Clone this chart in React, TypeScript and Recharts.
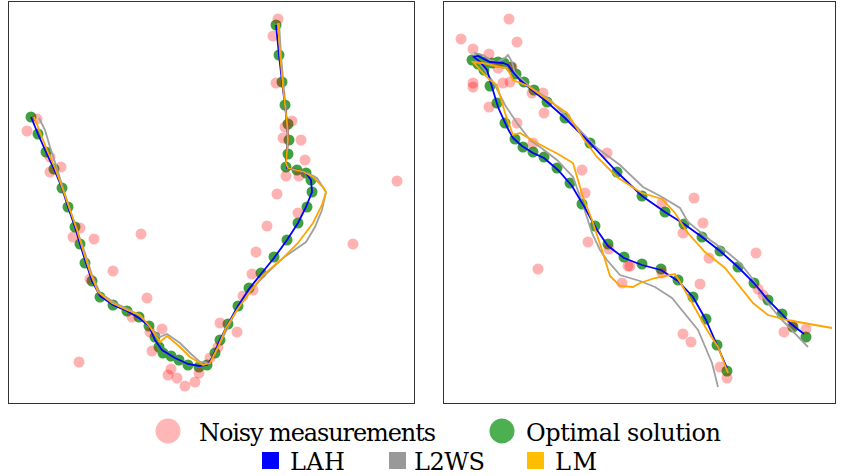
import React from 'react'
import { ScatterChart, Scatter, XAxis, YAxis } from 'recharts'

type P = { x: number; y: number }
const pts = (a: number[][]): P[] => a.map(([x, y]) => ({ x, y }))

// left panel (values in panel units, y grows downward)
const leftOptimal = pts([
  [31, 117], [38, 134], [46, 152], [54, 169], [62, 188], [68, 207], [75, 227], [80, 244],
  [85, 263], [92, 281], [100, 297], [113, 305], [127, 311], [139, 317], [149, 326], [155, 337],
  [159, 347], [163, 353], [171, 356], [179, 360], [188, 365], [199, 367], [207, 365], [215, 353],
  [220, 340], [228, 324], [238, 306], [249, 288], [261, 273], [274, 257], [287, 240], [298, 223],
  [307, 207], [312, 192], [311, 180], [306, 173], [297, 170], [286, 167], [288, 154], [289, 140],
  [288, 124], [285, 105], [282, 82], [279, 55], [276, 25],
])
const leftNoisy = pts([
  [37, 119], [27, 131], [50, 157], [61, 167], [50, 172], [80, 228], [73, 237], [94, 239],
  [141, 234], [113, 271], [90, 279], [147, 298], [132, 317], [150, 332], [162, 329], [152, 351],
  [79, 362], [171, 369], [168, 375], [177, 378], [185, 386], [195, 382], [199, 373], [210, 358],
  [220, 323], [218, 347], [237, 332], [243, 296], [253, 290], [252, 274], [256, 252], [267, 226],
  [298, 213], [353, 244], [277, 194], [286, 176], [299, 176], [305, 160], [301, 140], [283, 138],
  [285, 127], [292, 121], [276, 83], [273, 36], [278, 19], [397, 181],
])
const leftLAH = pts([
  [31, 117], [38, 134], [46, 152], [54, 169], [62, 188], [68, 207], [75, 227], [80, 244],
  [86, 263], [92, 281], [100, 296], [113, 305], [127, 311], [139, 318], [149, 326], [155, 340],
  [162, 350], [175, 358], [188, 364], [199, 366], [207, 365], [212, 358], [220, 340], [228, 324],
  [238, 306], [249, 289], [261, 274], [274, 258], [287, 240], [298, 223], [306, 207], [312, 192],
  [311, 180], [306, 173], [297, 170], [287, 168], [286, 160], [288, 140], [287, 124], [285, 105],
  [282, 82], [279, 55], [276, 25],
])
const leftL2WS = pts([
  [39, 118], [45, 130], [50, 147], [56, 165], [62, 185], [71, 213], [78, 233], [85, 253],
  [92, 275], [100, 293], [115, 303], [130, 310], [140, 316], [150, 328], [160, 337], [167, 334],
  [180, 343], [190, 353], [200, 362], [208, 363], [214, 355], [220, 343], [228, 327], [240, 303],
  [252, 289], [267, 273], [283, 258], [306, 242], [315, 227], [322, 210], [326, 192], [317, 178],
  [307, 173], [287, 168], [286, 160], [288, 140], [287, 122], [284, 90], [281, 55], [279, 23],
])
const leftLM = pts([
  [34, 117], [40, 132], [47, 150], [55, 168], [62, 187], [70, 210], [77, 230], [83, 250],
  [90, 272], [98, 292], [112, 303], [127, 310], [140, 315], [150, 327], [160, 342], [167, 336],
  [180, 347], [190, 357], [203, 365], [210, 363], [218, 347], [226, 328], [237, 310], [250, 292],
  [263, 275], [283, 258], [298, 243], [313, 223], [322, 205], [326, 192], [323, 187], [313, 177],
  [304, 172], [288, 168], [286, 163], [288, 140], [287, 123], [283, 87], [280, 53], [278, 23],
])

// right panel
const rightOptimal = pts([
  [727, 371], [717, 345], [706, 319], [693, 297], [678, 280], [661, 269], [642, 264], [624, 257],
  [608, 244], [595, 226], [582, 204], [570, 183], [557, 168], [544, 157], [533, 152], [523, 147],
  [515, 139], [505, 123], [497, 103], [490, 86], [484, 70], [478, 64], [472, 60], [478, 59],
  [485, 62], [492, 63], [498, 62], [504, 63], [511, 67], [516, 74], [524, 82], [534, 90],
  [547, 102], [565, 118], [590, 143], [617, 172], [642, 196], [665, 212], [684, 224], [702, 237],
  [720, 251], [738, 267], [754, 283], [768, 300], [782, 314], [793, 327], [806, 337],
])
const rightNoisy = pts([
  [461, 39], [473, 49], [489, 54], [509, 19], [517, 42], [498, 68], [512, 67], [473, 83],
  [473, 87], [503, 83], [510, 82], [532, 93], [543, 93], [489, 107], [544, 113], [517, 123],
  [533, 143], [607, 153], [582, 170], [585, 193], [662, 203], [694, 198], [703, 223], [683, 233],
  [756, 253], [709, 258], [700, 284], [630, 266], [662, 273], [758, 289], [763, 295], [683, 334],
  [691, 342], [720, 367], [727, 378], [784, 332], [806, 329], [792, 325], [538, 269], [588, 242],
  [609, 249], [628, 266], [622, 283],
])
const rightLAH = pts([
  [727, 368], [717, 345], [706, 320], [693, 297], [678, 281], [661, 270], [642, 265], [624, 258],
  [608, 246], [597, 230], [585, 208], [572, 186], [558, 170], [544, 158], [533, 153], [522, 146],
  [513, 138], [507, 127], [498, 107], [492, 87], [487, 70], [480, 62], [474, 57], [478, 56],
  [490, 62], [503, 63], [508, 65], [513, 72], [520, 80], [532, 90], [547, 102], [565, 118],
  [590, 143], [617, 172], [642, 196], [665, 212], [684, 224], [702, 237], [720, 251], [738, 267],
  [754, 283], [768, 300], [782, 314], [790, 323], [804, 334],
])
const rightL2WS = pts([
  [718, 387], [712, 363], [698, 330], [672, 298], [655, 287], [640, 281], [620, 275], [607, 260],
  [600, 250], [592, 233], [583, 205], [573, 177], [557, 160], [540, 147], [530, 140], [517, 123],
  [505, 105], [495, 85], [485, 70], [477, 60], [475, 53], [483, 55], [490, 60], [497, 62],
  [505, 58], [508, 55], [512, 62], [515, 73], [530, 87], [550, 100], [573, 123], [597, 148],
  [620, 165], [643, 187], [662, 197], [680, 208], [688, 222], [710, 240], [727, 252], [740, 263],
  [752, 278], [763, 297], [780, 318], [808, 347],
])
const rightLM = pts([
  [728, 373], [718, 347], [707, 330], [695, 308], [680, 282], [675, 274], [655, 278], [640, 283],
  [633, 287], [620, 286], [610, 276], [602, 250], [592, 220], [583, 197], [573, 163], [558, 154],
  [537, 143], [520, 133], [513, 135], [505, 113], [497, 85], [490, 80], [482, 72], [475, 64],
  [473, 62], [483, 63], [500, 67], [507, 68], [513, 80], [528, 86], [548, 100], [567, 113],
  [583, 138], [597, 157], [617, 177], [637, 190], [642, 193], [662, 199], [675, 213], [687, 232],
  [705, 252], [725, 268], [753, 303], [768, 315], [787, 320], [832, 328],
])

const GREEN = '#40a040'
const NOISY = 'rgba(255,0,0,0.3)'
const BLUE = '#0000ff'
const GRAY = '#a0a0a0'
const ORANGE = '#ffa500'

const dot = (fill: string) => (p: any) => <circle cx={p.cx} cy={p.cy} r={5.5} fill={fill} />
const none = () => <g />

type PanelProps = {
  left: number
  width: number
  xDomain: [number, number]
  optimal: P[]
  noisy: P[]
  lah: P[]
  l2ws: P[]
  lm: P[]
}

function Panel({ left, width, xDomain, optimal, noisy, lah, l2ws, lm }: PanelProps) {
  const height = 403
  const lineSeries = (data: P[], color: string) => (
    <Scatter
      data={data}
      line={{ stroke: color, strokeWidth: 1.8 }}
      lineType="joint"
      shape={none}
      isAnimationActive={false}
    />
  )
  return (
    <>
      <div style={{ position: 'absolute', left, top: 1, width, height }}>
        <ScatterChart width={width} height={height} margin={{ top: 0, right: 0, bottom: 0, left: 0 }}>
          <XAxis type="number" dataKey="x" domain={xDomain} hide allowDataOverflow />
          <YAxis type="number" dataKey="y" domain={[1, 404]} reversed hide allowDataOverflow />
          <Scatter data={optimal} shape={dot(GREEN)} isAnimationActive={false} />
          <Scatter data={noisy} shape={dot(NOISY)} isAnimationActive={false} />
          {lineSeries(l2ws, GRAY)}
          {lineSeries(lah, BLUE)}
          {lineSeries(lm, ORANGE)}
        </ScatterChart>
      </div>
      <div
        style={{
          position: 'absolute', left, top: 1, width, height,
          border: '1.2px solid #333', boxSizing: 'border-box', pointerEvents: 'none',
        }}
      />
    </>
  )
}

const legendFont: React.CSSProperties = {
  fontFamily: "'DejaVu Serif', serif",
  fontSize: 24,
}

export default function App() {
  return (
    <div style={{ position: 'absolute', left: 0, top: 0, width: 843, height: 476, background: '#fff' }}>
      <Panel
        left={8} width={407} xDomain={[8, 415]}
        optimal={leftOptimal} noisy={leftNoisy} lah={leftLAH} l2ws={leftL2WS} lm={leftLM}
      />
      <Panel
        left={443} width={393} xDomain={[443, 836]}
        optimal={rightOptimal} noisy={rightNoisy} lah={rightLAH} l2ws={rightL2WS} lm={rightLM}
      />
      <svg style={{ position: 'absolute', left: 0, top: 0 }} width={843} height={476}>
        <circle cx={168} cy={431} r={12.5} fill="#ffb6b6" />
        <text x={199} y={441} fill="#000" style={legendFont} textLength={237}>Noisy measurements</text>
        <circle cx={502} cy={431} r={12.5} fill="#4caf50" />
        <text x={526} y={441} fill="#000" style={legendFont} textLength={195}>Optimal solution</text>
        <rect x={262} y={452} width={17} height={17} fill="#0000ff" />
        <text x={290} y={470} fill="#000" style={legendFont} textLength={55}>LAH</text>
        <rect x={389} y={452} width={17} height={17} fill="#999999" />
        <text x={414} y={470} fill="#000" style={legendFont} textLength={71}>L2WS</text>
        <rect x={527} y={452} width={17} height={17} fill="#ffbf00" />
        <text x={555} y={470} fill="#000" style={legendFont} textLength={42}>LM</text>
      </svg>
    </div>
  )
}
